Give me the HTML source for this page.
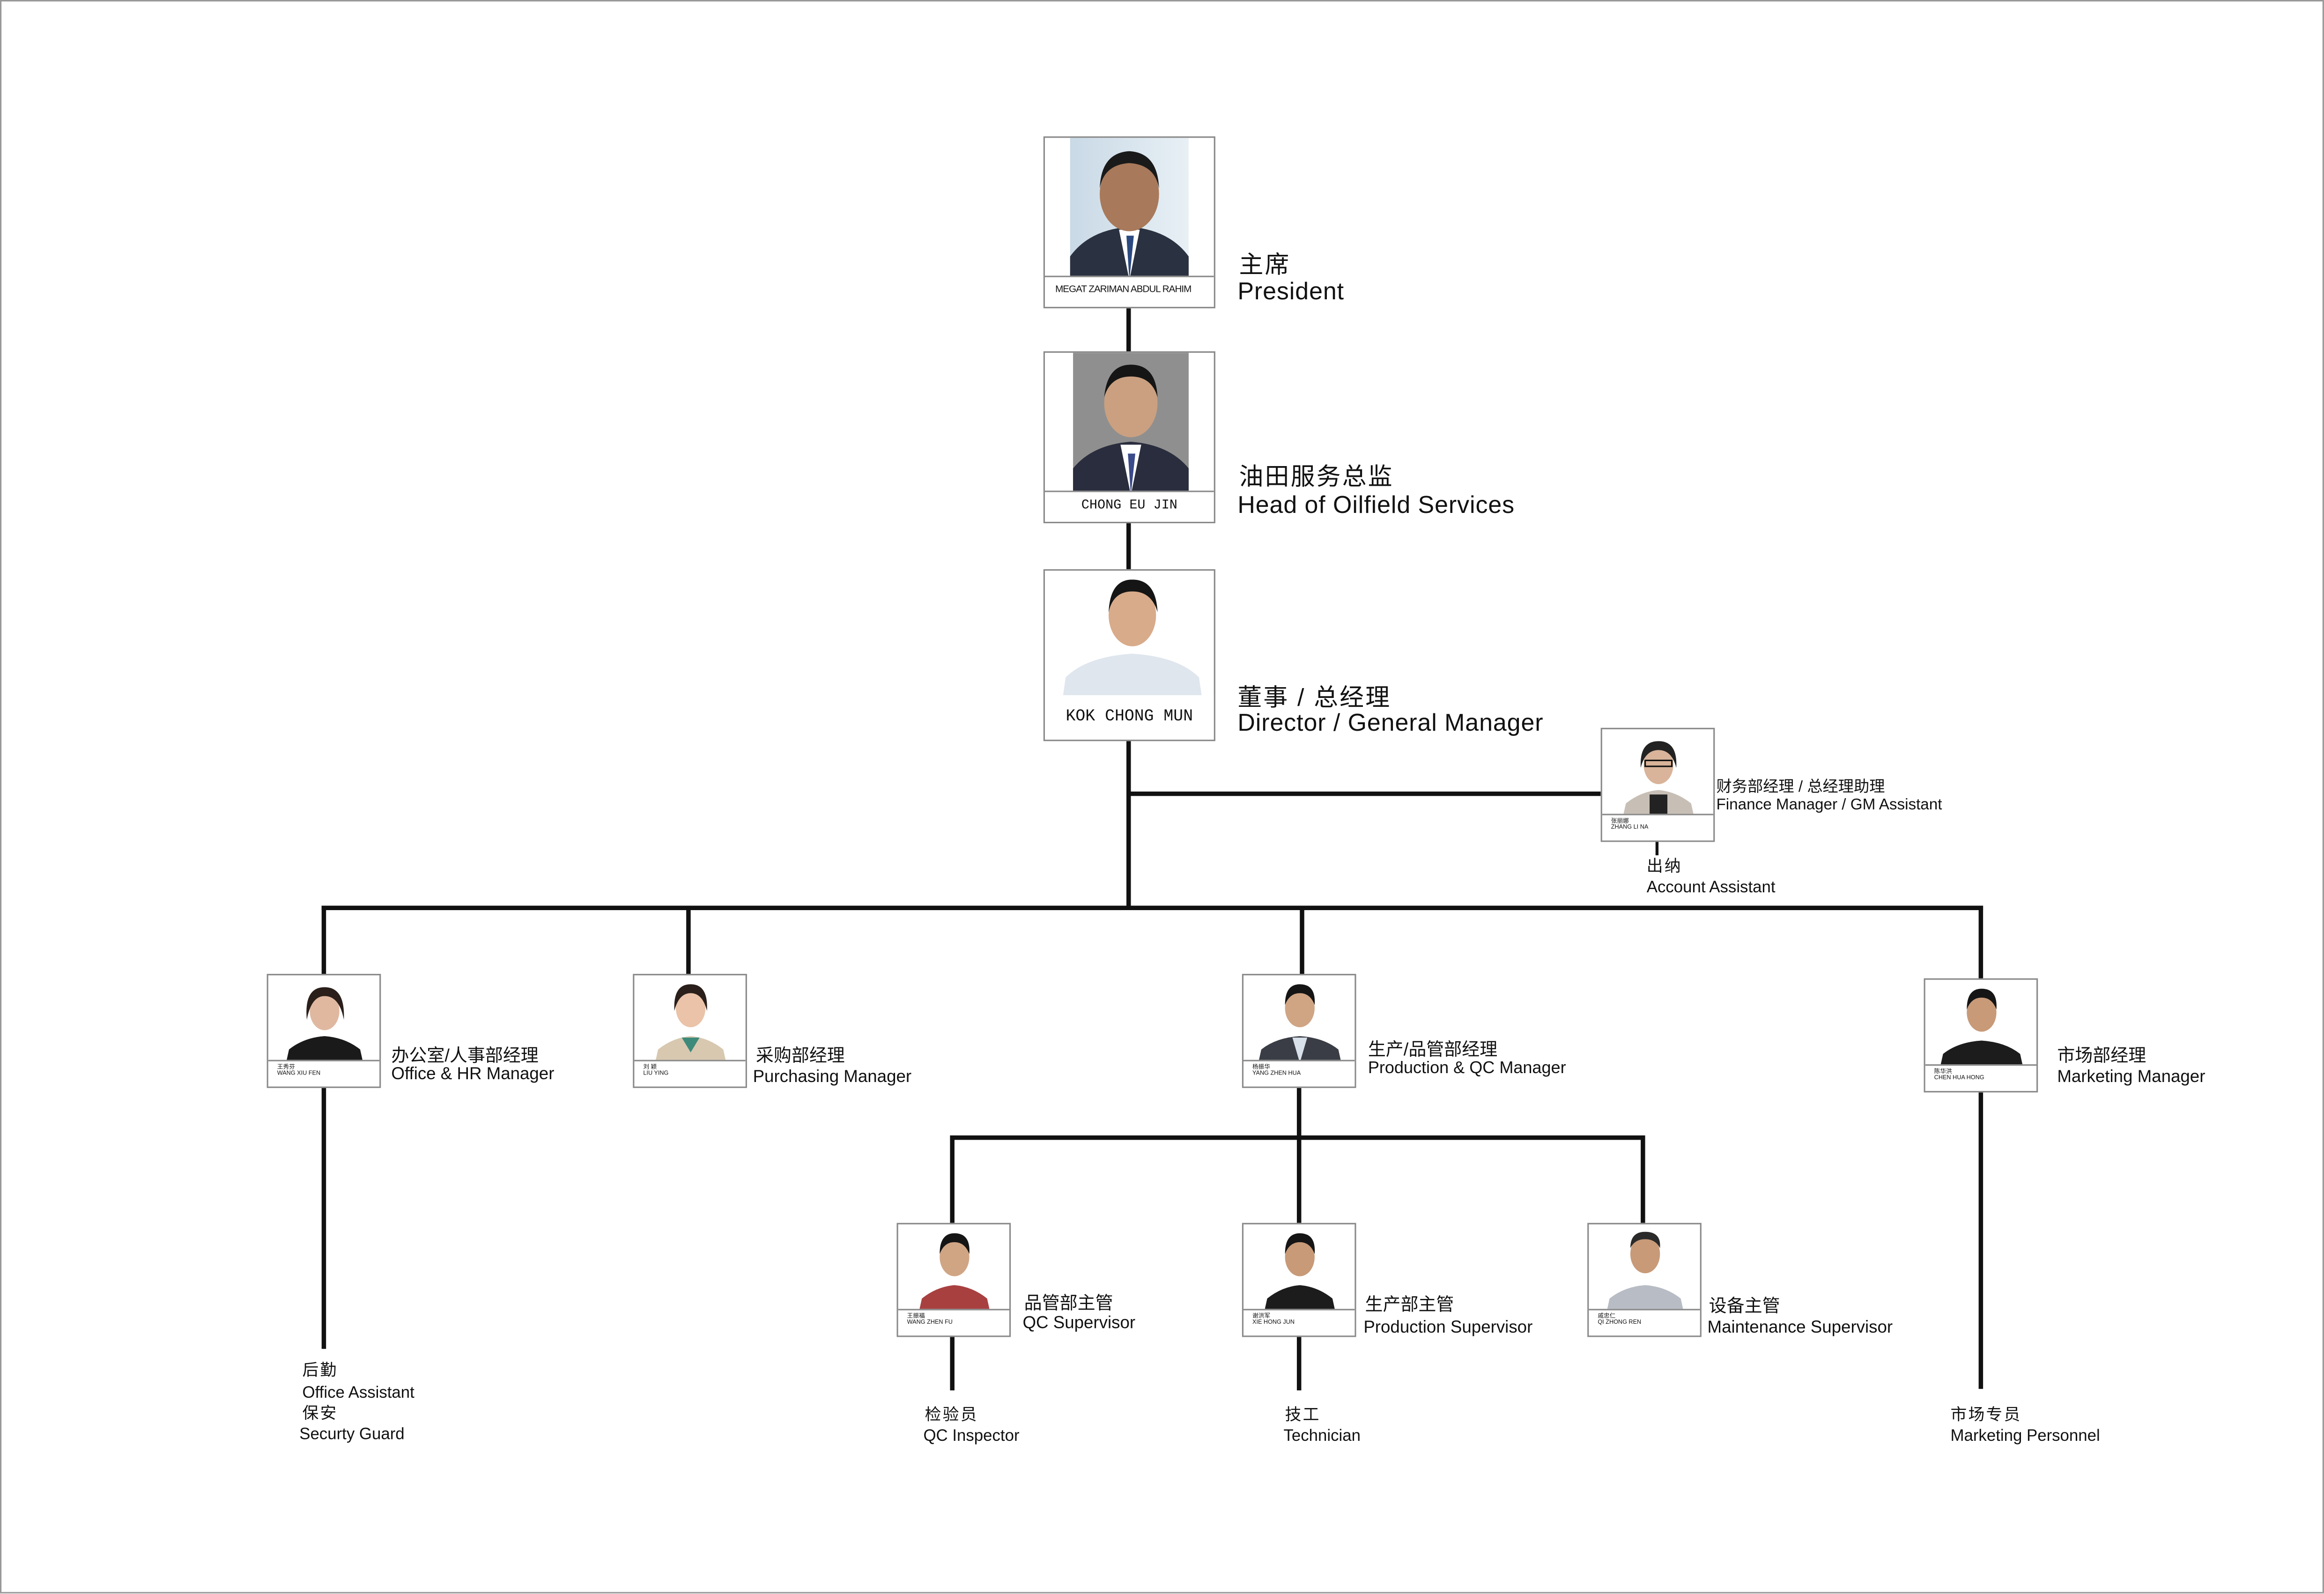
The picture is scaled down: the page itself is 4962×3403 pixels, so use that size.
<!DOCTYPE html>
<html><head><meta charset="utf-8">
<style>
html,body{margin:0;padding:0;background:#fff;}
body{width:4962px;height:3403px;overflow:hidden;}
#c{position:absolute;left:0;top:0;width:1568px;height:1075px;transform:scale(3.1645);transform-origin:0 0;font-family:"Liberation Sans","Noto Sans CJK SC",sans-serif;color:#111;}
.b{position:absolute;border:1px solid #8a8a8a;background:#fff;box-sizing:border-box;overflow:hidden;}
.b svg{position:absolute;left:0;top:0;}
.lab{position:absolute;left:0;right:0;bottom:0;border-top:1px solid #8a8a8a;background:#fff;}
.t{position:absolute;white-space:nowrap;line-height:1;}
.cn{letter-spacing:1px;}
.ln{position:absolute;background:#111;}
.sn{position:absolute;left:6px;font-size:4px;line-height:1.1;}
</style></head><body>
<div id="c">
<div style="position:absolute;left:0;top:0;width:1566px;height:1073px;border:1px solid #999;"></div>

<!-- lines -->
<div class="ln" style="left:760px;top:207px;width:2.5px;height:30px"></div>
<div class="ln" style="left:760px;top:352px;width:2.5px;height:32px"></div>
<div class="ln" style="left:760px;top:499px;width:2.5px;height:114px"></div>
<div class="ln" style="left:761px;top:534px;width:319px;height:2.5px"></div>
<div class="ln" style="left:1117px;top:567px;width:2px;height:10px"></div>
<div class="ln" style="left:217px;top:611px;width:1121px;height:2.5px"></div>
<div class="ln" style="left:217px;top:611px;width:2.5px;height:46px"></div>
<div class="ln" style="left:463px;top:611px;width:2.5px;height:46px"></div>
<div class="ln" style="left:877px;top:611px;width:2.5px;height:46px"></div>
<div class="ln" style="left:1335px;top:611px;width:2.5px;height:49px"></div>
<div class="ln" style="left:217px;top:733px;width:2.5px;height:177px"></div>
<div class="ln" style="left:1335px;top:736px;width:2.5px;height:201px"></div>
<div class="ln" style="left:875px;top:733px;width:2.5px;height:92px"></div>
<div class="ln" style="left:641px;top:766px;width:468px;height:2.5px"></div>
<div class="ln" style="left:641px;top:766px;width:2.5px;height:59px"></div>
<div class="ln" style="left:1107px;top:766px;width:2.5px;height:59px"></div>
<div class="ln" style="left:641px;top:901px;width:2.5px;height:37px"></div>
<div class="ln" style="left:875px;top:901px;width:2.5px;height:37px"></div>

<!-- President -->
<div class="b" style="left:704px;top:92px;width:116px;height:116px">
<svg width="116" height="96"><defs><linearGradient id="g1" x1="0" x2="1"><stop offset="0" stop-color="#c9d9e6"/><stop offset="1" stop-color="#e8f0f5"/></linearGradient></defs>
<rect x="17" y="0" width="80" height="96" fill="url(#g1)"/>
<path d="M17 96 L17 80 Q30 62 57 60 Q84 62 97 80 L97 96Z" fill="#2a3140"/>
<path d="M50 62 L57 96 L64 62Z" fill="#fff"/><path d="M55 66 L57 96 L60 66Z" fill="#2c4a80"/>
<ellipse cx="57" cy="38" rx="20" ry="25" fill="#a8795a"/><path d="M37 34 Q38 10 57 9 Q76 10 77 34 Q74 18 57 17 Q40 18 37 34Z" fill="#1a1a1a"/></svg>
<div class="lab" style="height:20px"><div class="t" style="left:7px;top:6px;font-size:6.5px;letter-spacing:-.3px">MEGAT ZARIMAN ABDUL RAHIM</div></div></div>
<div class="t cn" style="left:836px;top:171px;font-size:16.4px">主席</div>
<div class="t" style="left:835px;top:189px;font-size:16.4px;letter-spacing:.3px">President</div>

<!-- Head -->
<div class="b" style="left:704px;top:237px;width:116px;height:116px">
<svg width="116" height="96"><rect x="19" y="0" width="78" height="96" fill="#8f8f8f"/>
<path d="M19 96 L19 78 Q32 62 58 60 Q84 62 97 78 L97 96Z" fill="#2a2d3d"/>
<path d="M51 62 L58 96 L65 62Z" fill="#fff"/><path d="M56 68 L58 96 L61 68Z" fill="#3a4a8a"/>
<ellipse cx="58" cy="34" rx="18" ry="23" fill="#caa080"/><path d="M40 30 Q42 8 58 8 Q75 8 76 30 Q72 16 58 16 Q44 16 40 30Z" fill="#151515"/></svg>
<div class="lab" style="height:20px"><div class="t" style="left:0;right:0;text-align:center;top:5px;font-size:9px;font-family:'Liberation Mono',monospace">CHONG EU JIN</div></div></div>
<div class="t cn" style="left:836px;top:314px;font-size:16.4px">油田服务总监</div>
<div class="t" style="left:835px;top:333px;font-size:16.4px;letter-spacing:.3px">Head of Oilfield Services</div>

<!-- KOK -->
<div class="b" style="left:704px;top:384px;width:116px;height:116px">
<svg width="116" height="86"><path d="M12 86 L14 72 Q28 58 59 56 Q90 58 104 72 L106 86Z" fill="#dfe6ee"/>
<ellipse cx="59" cy="30" rx="16" ry="21" fill="#d8ab8a"/><path d="M43 28 Q44 6 59 6 Q75 6 76 28 Q72 14 59 14 Q46 14 43 28Z" fill="#151515"/></svg>
<div class="lab" style="height:30px;border-top:none"><div class="t" style="left:0;right:0;text-align:center;top:10px;font-size:11px;font-family:'Liberation Mono',monospace">KOK CHONG MUN</div></div></div>
<div class="t cn" style="left:835px;top:463px;font-size:16.4px">董事 / 总经理</div>
<div class="t" style="left:835px;top:480px;font-size:16.4px;letter-spacing:.3px">Director / General Manager</div>

<!-- Finance -->
<div class="b" style="left:1080px;top:491px;width:77px;height:77px">
<svg width="77" height="59"><path d="M14 59 L16 50 Q26 42 38 41 Q50 42 60 50 L62 59Z" fill="#c7bfb5"/><rect x="32" y="44" width="12" height="15" fill="#222"/>
<ellipse cx="38" cy="24" rx="10" ry="13" fill="#d9b49a"/><path d="M26 26 Q25 8 38 8 Q51 8 50 26 Q47 14 38 14 Q29 14 26 26Z" fill="#222"/><rect x="29" y="21" width="18" height="4" fill="none" stroke="#111" stroke-width="1"/></svg>
<div class="lab" style="height:17px"><div class="sn" style="top:2px">张丽娜<br>ZHANG LI NA</div></div></div>
<div class="t" style="left:1158px;top:526px;font-size:10.5px">财务部经理 / 总经理助理</div>
<div class="t" style="left:1158px;top:538px;font-size:10.5px">Finance Manager / GM Assistant</div>
<div class="t cn" style="left:1111px;top:580px;font-size:11px">出纳</div>
<div class="t" style="left:1111px;top:594px;font-size:11px">Account Assistant</div>

<!-- Office HR -->
<div class="b" style="left:180px;top:657px;width:77px;height:77px">
<svg width="77" height="59"><path d="M12 59 L14 50 Q24 42 38 41 Q52 42 62 50 L64 59Z" fill="#1a1a1a"/>
<ellipse cx="38" cy="24" rx="10" ry="13" fill="#e0b8a0"/><path d="M26 30 Q24 8 38 8 Q52 8 51 30 Q48 14 38 14 Q29 14 26 30Z" fill="#2a1f1a"/></svg>
<div class="lab" style="height:17px"><div class="sn" style="top:2px">王秀芬<br>WANG XIU FEN</div></div></div>
<div class="t" style="left:264px;top:706px;font-size:12px">办公室/人事部经理</div>
<div class="t" style="left:264px;top:719px;font-size:11.6px">Office &amp; HR Manager</div>
<div class="t cn" style="left:204px;top:920px;font-size:11px">后勤</div>
<div class="t" style="left:204px;top:935px;font-size:11px">Office Assistant</div>
<div class="t cn" style="left:204px;top:949px;font-size:11px">保安</div>
<div class="t" style="left:202px;top:963px;font-size:11px">Securty Guard</div>

<!-- Purchasing -->
<div class="b" style="left:427px;top:657px;width:77px;height:77px">
<svg width="77" height="59"><path d="M14 59 L16 50 Q26 42 38 41 Q50 42 60 50 L62 59Z" fill="#d8c8b0"/><path d="M32 42 L38 52 L44 42Z" fill="#3c8a7a"/>
<ellipse cx="38" cy="22" rx="10" ry="13" fill="#eac3a8"/><path d="M27 24 Q26 6 38 6 Q50 6 49 24 Q46 12 38 12 Q30 12 27 24Z" fill="#2a1f1a"/></svg>
<div class="lab" style="height:17px"><div class="sn" style="top:2px">刘 颖<br>LIU YING</div></div></div>
<div class="t" style="left:510px;top:706px;font-size:12px">采购部经理</div>
<div class="t" style="left:508px;top:721px;font-size:11.6px">Purchasing Manager</div>

<!-- Production QC Manager -->
<div class="b" style="left:838px;top:657px;width:77px;height:77px">
<svg width="77" height="59"><path d="M10 59 L12 50 Q22 42 38 41 Q54 42 64 50 L66 59Z" fill="#3a3d45"/><path d="M33 42 L38 59 L43 42Z" fill="#d8e0ea"/>
<ellipse cx="38" cy="22" rx="10" ry="13" fill="#d0a584"/><path d="M28 20 Q28 6 38 6 Q49 6 48 20 Q45 12 38 12 Q31 12 28 20Z" fill="#151515"/></svg>
<div class="lab" style="height:17px"><div class="sn" style="top:2px">杨振华<br>YANG ZHEN HUA</div></div></div>
<div class="t" style="left:923px;top:702px;font-size:12px">生产/品管部经理</div>
<div class="t" style="left:923px;top:716px;font-size:11.4px">Production &amp; QC Manager</div>

<!-- Marketing -->
<div class="b" style="left:1298px;top:660px;width:77px;height:77px">
<svg width="77" height="59"><path d="M10 59 L12 50 Q22 42 38 41 Q54 42 64 50 L66 59Z" fill="#1c1c1c"/>
<ellipse cx="38" cy="22" rx="10" ry="13" fill="#c89a78"/><path d="M28 20 Q28 6 38 6 Q49 6 48 20 Q45 12 38 12 Q31 12 28 20Z" fill="#151515"/></svg>
<div class="lab" style="height:17px"><div class="sn" style="top:2px">陈华洪<br>CHEN HUA HONG</div></div></div>
<div class="t" style="left:1388px;top:706px;font-size:12px">市场部经理</div>
<div class="t" style="left:1388px;top:721px;font-size:11.6px">Marketing Manager</div>
<div class="t cn" style="left:1316px;top:950px;font-size:11px">市场专员</div>
<div class="t" style="left:1316px;top:964px;font-size:11px">Marketing Personnel</div>

<!-- QC Supervisor -->
<div class="b" style="left:605px;top:825px;width:77px;height:77px">
<svg width="77" height="59"><path d="M14 59 L16 50 Q26 42 38 41 Q50 42 60 50 L62 59Z" fill="#a84040"/>
<ellipse cx="38" cy="22" rx="10" ry="13" fill="#d0a584"/><path d="M28 20 Q28 6 38 6 Q49 6 48 20 Q45 12 38 12 Q31 12 28 20Z" fill="#151515"/></svg>
<div class="lab" style="height:17px"><div class="sn" style="top:2px">王振福<br>WANG ZHEN FU</div></div></div>
<div class="t" style="left:691px;top:873px;font-size:12px">品管部主管</div>
<div class="t" style="left:690px;top:887px;font-size:11.6px">QC Supervisor</div>
<div class="t cn" style="left:624px;top:950px;font-size:11px">检验员</div>
<div class="t" style="left:623px;top:964px;font-size:11px">QC Inspector</div>

<!-- Production Supervisor -->
<div class="b" style="left:838px;top:825px;width:77px;height:77px">
<svg width="77" height="59"><path d="M14 59 L16 50 Q26 42 38 41 Q50 42 60 50 L62 59Z" fill="#1c1c1c"/>
<ellipse cx="38" cy="22" rx="10" ry="13" fill="#c89a78"/><path d="M28 20 Q28 6 38 6 Q49 6 48 20 Q45 12 38 12 Q31 12 28 20Z" fill="#151515"/></svg>
<div class="lab" style="height:17px"><div class="sn" style="top:2px">谢洪军<br>XIE HONG JUN</div></div></div>
<div class="t" style="left:921px;top:874px;font-size:12px">生产部主管</div>
<div class="t" style="left:920px;top:890px;font-size:11.6px">Production Supervisor</div>
<div class="t cn" style="left:867px;top:950px;font-size:11px">技工</div>
<div class="t" style="left:866px;top:964px;font-size:11px">Technician</div>

<!-- Maintenance -->
<div class="b" style="left:1071px;top:825px;width:77px;height:77px">
<svg width="77" height="59"><path d="M12 59 L14 50 Q24 42 38 41 Q52 42 62 50 L64 59Z" fill="#b8bcc4"/>
<ellipse cx="38" cy="20" rx="10" ry="13" fill="#c89a78"/><path d="M28 16 Q28 5 38 5 Q49 5 48 16 Q45 10 38 10 Q31 10 28 16Z" fill="#2a2a2a"/></svg>
<div class="lab" style="height:17px"><div class="sn" style="top:2px">戚忠仁<br>QI ZHONG REN</div></div></div>
<div class="t" style="left:1153px;top:875px;font-size:12px">设备主管</div>
<div class="t" style="left:1152px;top:890px;font-size:11.6px">Maintenance Supervisor</div>
</div>
</body></html>
